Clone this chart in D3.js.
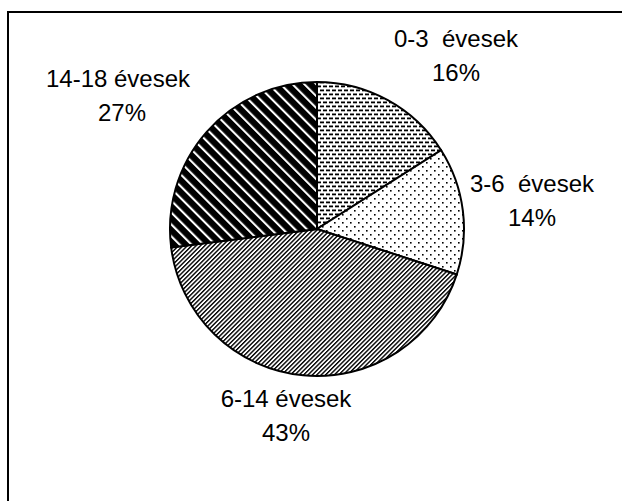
<!DOCTYPE html>
<html>
<head>
<meta charset="utf-8">
<script src="https://cdn.jsdelivr.net/npm/d3@7"></script>
<style>
  html, body { margin: 0; padding: 0; background: #fff; }
  svg { display: block; }
  text { font-family: "Liberation Sans", Arial, sans-serif; fill: #000; white-space: pre; }
</style>
</head>
<body>
<svg id="chart" width="622" height="501"></svg>
<script>
const categories = ["0-3  évesek", "3-6  évesek", "6-14 évesek", "14-18 évesek"];
const values = [16, 14, 43, 27];
const percentLabels = ["16%", "14%", "43%", "27%"];
const patternIds = ["pBrick", "pDots", "pFine", "pBold"];
// label anchor positions (centre x, baseline of first line)
const labelPos = [[456, 47], [532, 192], [286, 407], [118, 87]];

const W = 622, H = 501;
const svg = d3.select("#chart");
const defs = svg.append("defs");

// 0-3: staggered short horizontal dashes
const p1 = defs.append("pattern").attr("id", "pBrick").attr("patternUnits", "userSpaceOnUse")
  .attr("width", 6).attr("height", 8);
p1.append("rect").attr("width", 6).attr("height", 8).attr("fill", "#fff");
p1.append("rect").attr("x", 0).attr("y", 0.5).attr("width", 4).attr("height", 1.8).attr("fill", "#000");
p1.append("rect").attr("x", 3).attr("y", 4.5).attr("width", 4).attr("height", 1.8).attr("fill", "#000");
p1.append("rect").attr("x", -3).attr("y", 4.5).attr("width", 4).attr("height", 1.8).attr("fill", "#000");

// 3-6: sparse dots
const p2 = defs.append("pattern").attr("id", "pDots").attr("patternUnits", "userSpaceOnUse")
  .attr("width", 8).attr("height", 8);
p2.append("rect").attr("width", 8).attr("height", 8).attr("fill", "#fff");
p2.append("rect").attr("x", 1).attr("y", 1).attr("width", 1.6).attr("height", 1.6).attr("fill", "#000");
p2.append("rect").attr("x", 5).attr("y", 5).attr("width", 1.6).attr("height", 1.6).attr("fill", "#000");

// 6-14: fine "/" lines
const p3 = defs.append("pattern").attr("id", "pFine").attr("patternUnits", "userSpaceOnUse")
  .attr("width", 3.1).attr("height", 10).attr("patternTransform", "rotate(45)");
p3.append("rect").attr("width", 3.1).attr("height", 10).attr("fill", "#fff");
p3.append("rect").attr("x", 0).attr("y", 0).attr("width", 1.4).attr("height", 10).attr("fill", "#000");

// 14-18: bold black with white "\" stripes
const p4 = defs.append("pattern").attr("id", "pBold").attr("patternUnits", "userSpaceOnUse")
  .attr("width", 8.4).attr("height", 10).attr("patternTransform", "rotate(-45)");
p4.append("rect").attr("width", 8.4).attr("height", 10).attr("fill", "#000");
p4.append("rect").attr("x", 0).attr("y", 0).attr("width", 2.1).attr("height", 10).attr("fill", "#fff");

// frame lines (left and top)
svg.append("path")
  .attr("d", `M8,${H} L8,12 L${W},12`)
  .attr("fill", "none").attr("stroke", "#000").attr("stroke-width", 2);

const cx = 317, cy = 229, r = 147;
const pie = d3.pie().sort(null).value(d => d)(values);
const arc = d3.arc().innerRadius(0).outerRadius(r);

const g = svg.append("g").attr("transform", `translate(${cx},${cy})`);
g.selectAll("path.slice").data(pie).enter().append("path")
  .attr("class", "slice")
  .attr("d", arc)
  .attr("fill", (d, i) => `url(#${patternIds[i]})`)
  .attr("stroke", "#000")
  .attr("stroke-width", 2)
  .attr("stroke-linejoin", "miter");

const labels = svg.append("g");
categories.forEach((c, i) => {
  const [x, y] = labelPos[i];
  labels.append("text").attr("x", x).attr("y", y).attr("text-anchor", "middle")
    .attr("font-size", 24).text(c);
  labels.append("text").attr("x", x + (i === 3 ? 4 : 0)).attr("y", y + 34).attr("text-anchor", "middle")
    .attr("font-size", 24).text(percentLabels[i]);
});
</script>
</body>
</html>
